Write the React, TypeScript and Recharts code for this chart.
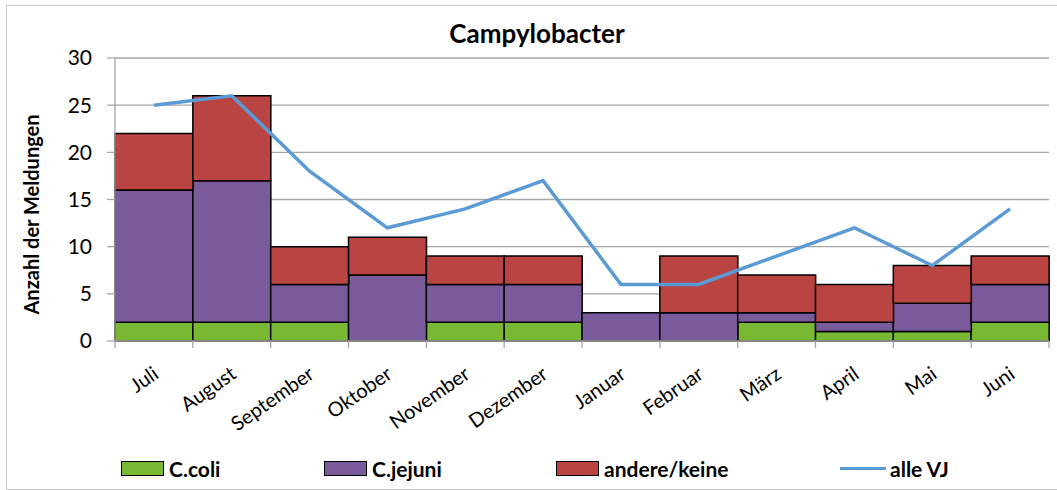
import React from 'react';
import {
  ComposedChart,
  Bar,
  Line,
  XAxis,
  YAxis,
  CartesianGrid
} from 'recharts';

const months = ['Juli', 'August', 'September', 'Oktober', 'November', 'Dezember', 'Januar', 'Februar', 'März', 'April', 'Mai', 'Juni'];
const coli = [2, 2, 2, 0, 2, 2, 0, 0, 2, 1, 1, 2];
const jejuni = [14, 15, 4, 7, 4, 4, 3, 3, 1, 1, 3, 4];
const andere = [6, 9, 4, 4, 3, 3, 0, 6, 4, 4, 4, 3];
const alleVJ = [25, 26, 18, 12, 14, 17, 6, 6, 9, 12, 8, 14];
const yTicks = [0, 5, 10, 15, 20, 25, 30];

const COLORS = {
  coli: '#78B832',
  jejuni: '#795A9B',
  andere: '#B94442',
  line: '#5B9BD5',
  grid: '#A6A6A6'
};

const FONT = 'Lato, "Open Sans", sans-serif';

const data = months.map((m, i) => ({
  month: m,
  coli: coli[i],
  jejuni: jejuni[i],
  andere: andere[i],
  alle: alleVJ[i]
}));

const legendItems = [
  { label: 'C.coli', color: COLORS.coli, left: 121, kind: 'box' },
  { label: 'C.jejuni', color: COLORS.jejuni, left: 324, kind: 'box' },
  { label: 'andere/keine', color: COLORS.andere, left: 556, kind: 'box' },
  { label: 'alle VJ', color: COLORS.line, left: 840, kind: 'line' }
];

// month labels rotated like the excel original, tick marks sit between categories
const MonthTick = (props: any) => {
  const { x, y, payload, width, visibleTicksCount, index } = props;
  const half = (width / visibleTicksCount) / 2;
  const tx = x + 6;
  const ty = y + 36;
  return (
    <g>
      <line x1={x - half} x2={x - half} y1={y} y2={y + 7} stroke={COLORS.grid} strokeWidth={1.3} />
      {index === visibleTicksCount - 1 && (
        <line x1={x + half} x2={x + half} y1={y} y2={y + 7} stroke={COLORS.grid} strokeWidth={1.3} />
      )}
      <text
        x={tx}
        y={ty}
        transform={`rotate(-35, ${tx}, ${ty})`}
        textAnchor="end"
        fill="#000"
        fontSize={20}
        fontFamily={FONT}
      >
        {payload.value}
      </text>
    </g>
  );
};

const YTitle = (props: any) => {
  const { viewBox } = props;
  const cx = viewBox.x + 31;
  const cy = viewBox.y + viewBox.height / 2 + 15;
  return (
    <text
      x={cx}
      y={cy}
      transform={`rotate(-90, ${cx}, ${cy})`}
      textAnchor="middle"
      dominantBaseline="central"
      fontFamily={FONT}
      fontWeight={700}
      fontSize={20}
      fill="#000"
    >
      Anzahl der Meldungen
    </text>
  );
};

export default function App() {
  return (
    <div style={{ position: 'fixed', left: 0, top: 0, width: 1057, height: 490, background: '#fff' }}>
      <div
        style={{
          position: 'absolute',
          left: 6,
          top: 5,
          width: 1060,
          height: 483,
          border: '1.5px solid #C8C8C8'
        }}
      />
      <div
        style={{
          position: 'absolute',
          left: 0,
          width: 1074,
          top: 17,
          textAlign: 'center',
          fontFamily: FONT,
          fontWeight: 700,
          fontSize: 26,
          color: '#000'
        }}
      >
        Campylobacter
      </div>
      <ComposedChart
        width={1057}
        height={490}
        data={data}
        margin={{ top: 58, right: 8, left: 0, bottom: 79 }}
        barCategoryGap={0}
        style={{ position: 'absolute', left: 0, top: 0 }}
      >
        <CartesianGrid vertical={false} stroke={COLORS.grid} strokeWidth={1.3} />
        <XAxis
          dataKey="month"
          height={70}
          interval={0}
          tickLine={false}
          tickSize={0}
          tickMargin={0}
          axisLine={{ stroke: COLORS.grid, strokeWidth: 1.3 }}
          tick={<MonthTick />}
        />
        <YAxis
          domain={[0, 30]}
          ticks={yTicks}
          width={115}
          tickSize={8}
          tickMargin={15}
          axisLine={{ stroke: COLORS.grid, strokeWidth: 1.3 }}
          tickLine={{ stroke: COLORS.grid, strokeWidth: 1.3 }}
          tick={{ fill: '#000', fontSize: 21, fontFamily: FONT }}
          label={<YTitle />}
        />
        <Bar dataKey="coli" stackId="a" fill={COLORS.coli} stroke="#000" strokeWidth={1.5} isAnimationActive={false} />
        <Bar dataKey="jejuni" stackId="a" fill={COLORS.jejuni} stroke="#000" strokeWidth={1.5} isAnimationActive={false} />
        <Bar dataKey="andere" stackId="a" fill={COLORS.andere} stroke="#000" strokeWidth={1.5} isAnimationActive={false} />
        <Line
          type="linear"
          dataKey="alle"
          stroke={COLORS.line}
          strokeWidth={3.5}
          dot={false}
          isAnimationActive={false}
        />
      </ComposedChart>
      {legendItems.map((item) => (
        <div
          key={item.label}
          style={{
            position: 'absolute',
            left: item.left,
            top: 453,
            height: 30,
            display: 'flex',
            alignItems: 'center',
            fontFamily: FONT,
            fontWeight: 700,
            fontSize: 21,
            color: '#000'
          }}
        >
          {item.kind === 'box' ? (
            <span
              style={{
                display: 'inline-block',
                width: 41,
                height: 13,
                background: item.color,
                border: '1.5px solid #000',
                marginRight: 5
              }}
            />
          ) : (
            <span
              style={{
                display: 'inline-block',
                width: 46,
                height: 3,
                background: item.color,
                marginRight: 4
              }}
            />
          )}
          {item.label}
        </div>
      ))}
    </div>
  );
}
